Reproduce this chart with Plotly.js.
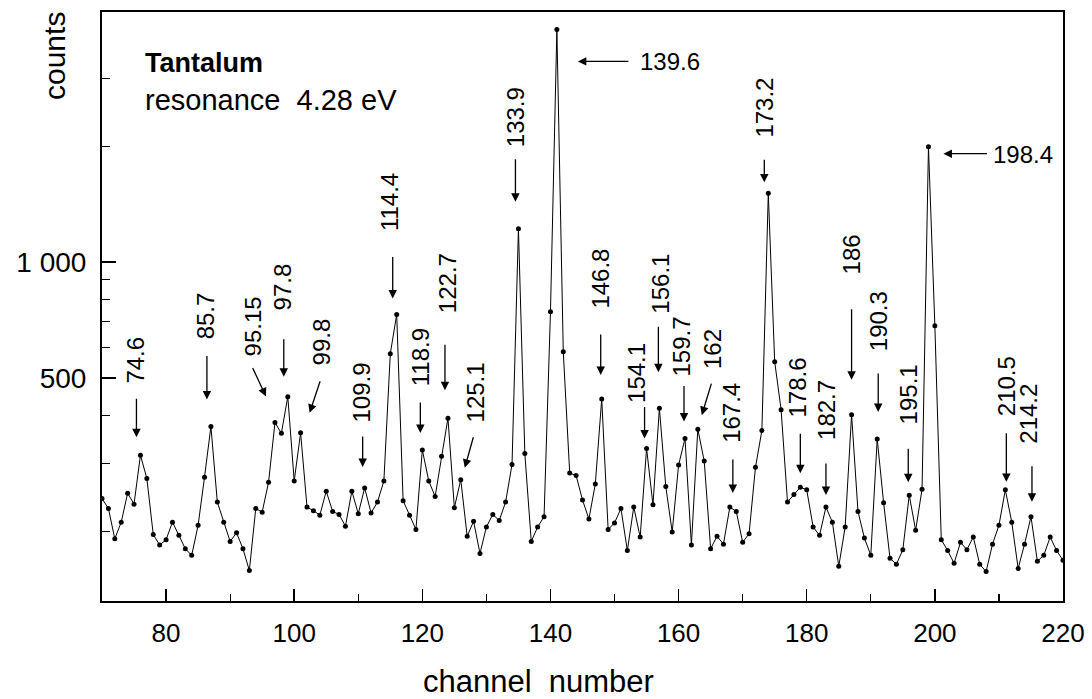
<!DOCTYPE html>
<html>
<head>
<meta charset="utf-8">
<script src="https://cdn.plot.ly/plotly-3.0.1.min.js"></script>
<style>html,body{margin:0;padding:0;background:#fff;}#chart{width:1092px;height:699px;}</style>
</head>
<body>
<div id="chart"></div>
<script>
// channel numbers (x)
const channels = [
  70,71,72,73,74,75,76,77,78,79,
  80,81,82,83,84,85,86,87,88,89,
  90,91,92,93,94,95,96,97,98,99,
  100,101,102,103,104,105,106,107,108,109,
  110,111,112,113,114,115,116,117,118,119,
  120,121,122,123,124,125,126,127,128,129,
  130,131,132,133,134,135,136,137,138,139,
  140,141,142,143,144,145,146,147,148,149,
  150,151,152,153,154,155,156,157,158,159,
  160,161,162,163,164,165,166,167,168,169,
  170,171,172,173,174,175,176,177,178,179,
  180,181,182,183,184,185,186,187,188,189,
  190,191,192,193,194,195,196,197,198,199,
  200,201,202,203,204,205,206,207,208,209,
  210,211,212,213,214,215,216,217,218,219,
  220
];
// counts per channel
const counts = [
  243,229,191,211,251,235,315,274,196,184,
  190,211,195,180,173,207,276,374,238,211,
  188,198,180,158,229,224,268,383,359,447,
  270,360,231,226,220,254,225,221,206,254,
  222,259,223,238,270,578,731,240,220,202,
  325,270,246,313,393,230,272,194,212,175,
  205,221,213,238,298,1220,318,188,205,218,
  743,4020,585,283,279,241,215,265,441,202,
  210,229,178,231,193,328,234,417,261,199,
  297,348,184,368,304,180,194,185,231,225,
  187,197,293,365,1508,551,413,238,249,260,
  256,205,195,231,211,162,205,401,225,192,
  173,347,237,170,164,179,248,201,257,1993,
  683,190,178,165,187,179,193,164,157,185,
  207,256,211,160,185,218,167,173,193,178,
  168
];
// peak labels and the channel each one marks
const peakLabels = ['74.6','85.7','95.15','97.8','99.8','109.9','114.4','118.9','122.7','125.1',
  '133.9','139.6','146.8','154.1','156.1','159.7','162','167.4','173.2','178.6',
  '182.7','186','190.3','195.1','198.4','210.5','214.2'];
const peakChannels = [76,87,97,99,101,111,116,120,124,126,
  135,141,148,155,157,161,163,168,174,179,
  183,187,191,196,199,211,215];
const xTickVals = [80,100,120,140,160,180,200,220];
const xMinorVals = [90,110,130,150,170,190,210];
const yTickVals = [500,1000];
const yTickText = ['500','1 000'];
const yMinorVals = [200,300,400,600,700,800,900,2000,3000];

// label placement (pixel offsets from the marked point): [textDx, textDy, tipDx, tipDy, arrowDx, arrowDy, horizontal]
const place = [
  [-5,-95,-4,-18,0,-40,0],
  [-5,-111,-4,-27,0,-45,0],
  [-22,-96,-9,-26,-14,-30,0],
  [-5,-110,-4,-20,0,-39,0],
  [21,-91,9,-20,11,-33,0],
  [-3,-95,-2,-21,0,-32,0],
  [-7,-112,-4,-16,0,-43,0],
  [-1,-93,-2,-17,0,-32,0],
  [-1,-135,-3,-28,0,-47,0],
  [15,-87,4,-12,9,-32,0],
  [-3,-112,-3,-27,0,-44,0],
  [113,32,21,32,52,0,1],
  [-1,-120,-1,-24,0,-42,0],
  [-10,-75,-2,-10,0,-33,0],
  [1,-125,-1,-36,0,-47,0],
  [-4,-92,-1,-17,0,-37,0],
  [14,-80,4,-14,10,-33,0],
  [1,-94,3,-14,0,-35,0],
  [-4,-86,-4,-11,0,-24,0],
  [-3,-100,0,-14,0,-41,0],
  [0,-97,0,-12,0,-33,0],
  [0,-160,0,-35,0,-72,0],
  [2,-118,1,-27,0,-40,0],
  [-1,-101,-1,-13,0,-35,0],
  [95,8,15,7,45,0,1],
  [1,-104,1,-8,0,-50,0],
  [-2,-103,1,-15,0,-37,0]
];

const FONT = 'Liberation Sans, Arial, Helvetica, sans-serif';
const annotations = [];
peakLabels.forEach(function(lbl, i){
  const ch = peakChannels[i];
  const v = counts[channels.indexOf(ch)];
  const p = place[i];
  const yl = Math.log10(v);
  annotations.push({
    x: ch, y: yl, xref: 'x', yref: 'y', text: '', showarrow: true,
    axref: 'pixel', ayref: 'pixel', ax: p[4], ay: p[5],
    xshift: p[2], yshift: -p[3], standoff: 0,
    arrowhead: 2, arrowsize: 1.3, arrowwidth: 1.3, arrowcolor: '#000'
  });
  annotations.push({
    x: ch, y: yl, xref: 'x', yref: 'y', text: lbl, showarrow: false,
    textangle: p[6] ? 0 : -90, xshift: p[0], yshift: -p[1],
    font: {family: FONT, size: 24, color: '#000'}
  });
});
annotations.push({xref:'paper', yref:'paper', x:0.0427, y:0.913, xanchor:'left', yanchor:'middle',
  text:'<b>Tantalum</b>', showarrow:false, font:{family:FONT, size:27, color:'#000'}});
annotations.push({xref:'paper', yref:'paper', x:0.0427, y:0.8506, xanchor:'left', yanchor:'middle',
  text:'resonance  4.28 eV', showarrow:false, font:{family:FONT, size:29, color:'#000'}});
annotations.push({xref:'paper', yref:'paper', x:-0.0489, y:0.9253, xanchor:'center', yanchor:'middle',
  text:'counts', textangle:-90, showarrow:false, font:{family:FONT, size:30, color:'#000'}});
annotations.push({xref:'paper', yref:'paper', x:0.4537, y:-0.1375, xanchor:'center', yanchor:'middle',
  text:'channel  number', showarrow:false, font:{family:FONT, size:31, color:'#000'}});

const trace = {
  x: channels, y: counts, type: 'scatter', mode: 'lines+markers',
  line: {color: '#000', width: 1},
  marker: {color: '#000', size: 5},
  hoverinfo: 'x+y'
};

const layout = {
  width: 1092, height: 699,
  margin: {l: 102, r: 29, t: 12, b: 98},
  paper_bgcolor: '#fff', plot_bgcolor: '#fff',
  showlegend: false,
  font: {family: FONT, color: '#000'},
  xaxis: {
    range: [70, 220], showline: true, linecolor: '#000', linewidth: 2, mirror: true,
    showgrid: false, zeroline: false,
    ticks: 'inside', ticklen: 12, tickwidth: 1.5, tickcolor: '#000',
    tickmode: 'array', tickvals: xTickVals, ticklabelstandoff: 8,
    tickfont: {family: FONT, size: 26, color: '#000'},
    minor: {tickmode: 'array', tickvals: xMinorVals, ticks: 'inside', ticklen: 7, tickwidth: 1.2, tickcolor: '#000', showgrid: false}
  },
  yaxis: {
    type: 'log', range: [2.1195, 3.6494], showline: true, linecolor: '#000', linewidth: 2, mirror: true,
    showgrid: false, zeroline: false,
    ticks: 'inside', ticklen: 14, tickwidth: 1.5, tickcolor: '#000',
    tickmode: 'array', tickvals: yTickVals, ticktext: yTickText, ticklabelstandoff: 8,
    tickfont: {family: FONT, size: 28, color: '#000'},
    minor: {tickmode: 'array', tickvals: yMinorVals, ticks: 'inside', ticklen: 8, tickwidth: 1.2, tickcolor: '#000', showgrid: false}
  },
  annotations: annotations
};

Plotly.newPlot('chart', [trace], layout, {displayModeBar: false, staticPlot: true});
</script>
</body>
</html>
